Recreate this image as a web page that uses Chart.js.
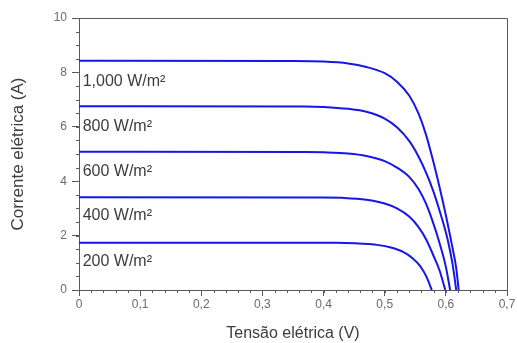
<!DOCTYPE html>
<html>
<head>
<meta charset="utf-8">
<script src="https://cdn.jsdelivr.net/npm/chart.js@4/dist/chart.umd.min.js"></script>
<style>
  html, body { margin: 0; padding: 0; background: #fff; overflow: hidden; }
  canvas { display: block; }
</style>
</head>
<body>
<canvas id="c" width="517" height="343"></canvas>
<script>
/* I-V curves of a PV cell at five irradiance levels. */

const curveLabels = ['1,000 W/m²', '800 W/m²', '600 W/m²', '400 W/m²', '200 W/m²'];
const labelY = [7.65, 5.99, 4.34, 2.72, 1.03]; // where each label sits (A)

const v1000 = [0, 0.35, 0.40, 0.44, 0.47, 0.50, 0.52, 0.54, 0.555, 0.567, 0.578, 0.59, 0.60, 0.61, 0.617, 0.621];
const i1000 = [8.43, 8.42, 8.40, 8.33, 8.20, 7.97, 7.66, 7.15, 6.50, 5.75, 4.85, 3.75, 2.75, 1.65, 0.80, 0];

const v800 = [0, 0.37, 0.40, 0.44, 0.47, 0.50, 0.52, 0.54, 0.555, 0.568, 0.58, 0.592, 0.603, 0.611, 0.617];
const i800 = [6.76, 6.75, 6.73, 6.66, 6.55, 6.30, 5.98, 5.48, 4.92, 4.30, 3.60, 2.75, 1.85, 0.95, 0];

const v600 = [0, 0.37, 0.40, 0.44, 0.47, 0.50, 0.52, 0.54, 0.555, 0.567, 0.578, 0.59, 0.60, 0.607];
const i600 = [5.08, 5.07, 5.06, 5.02, 4.93, 4.74, 4.50, 4.16, 3.72, 3.20, 2.55, 1.70, 0.85, 0];

const v400 = [0, 0.40, 0.43, 0.47, 0.50, 0.52, 0.54, 0.555, 0.568, 0.58, 0.59, 0.599];
const i400 = [3.41, 3.405, 3.39, 3.32, 3.18, 3.00, 2.70, 2.32, 1.85, 1.25, 0.70, 0];

const v200 = [0, 0.42, 0.45, 0.49, 0.51, 0.53, 0.545, 0.558, 0.568, 0.577];
const i200 = [1.74, 1.735, 1.72, 1.65, 1.56, 1.40, 1.18, 0.88, 0.50, 0];

const xTicks = [0, 0.1, 0.2, 0.3, 0.4, 0.5, 0.6, 0.7];
const yTicks = [0, 2, 4, 6, 8, 10];

const BLUE = '#1616e6';
const AXIS = '#5a5a5a';
const FONT = "'Liberation Sans', Arial, sans-serif";

function pts(vs, is) {
  return vs.map((v, k) => ({ x: v, y: is[k] }));
}

const series = [
  pts(v1000, i1000), pts(v800, i800), pts(v600, i600), pts(v400, i400), pts(v200, i200),
];

// box around the plot, minor ticks, and the irradiance labels
const extras = {
  id: 'extras',
  afterDraw(chart) {
    const { ctx, chartArea: a, scales: { x, y } } = chart;
    ctx.save();
    ctx.strokeStyle = AXIS;
    ctx.lineWidth = 1;
    ctx.beginPath();
    ctx.moveTo(a.left, a.top + 0.5);
    ctx.lineTo(a.right + 0.5, a.top + 0.5);
    ctx.lineTo(a.right + 0.5, a.bottom);
    ctx.stroke();

    ctx.beginPath();
    for (let v = 0; v <= 0.7001; v += 0.02) {
      const px = Math.round(x.getPixelForValue(v)) + 0.5;
      ctx.moveTo(px, a.bottom);
      ctx.lineTo(px, a.bottom + 3);
    }
    for (let v = 0; v <= 10.001; v += 0.5) {
      const py = Math.round(y.getPixelForValue(v)) + 0.5;
      ctx.moveTo(a.left, py);
      ctx.lineTo(a.left - 3, py);
    }
    ctx.stroke();

    ctx.fillStyle = '#3c3c3c';
    ctx.font = '16px ' + FONT;
    ctx.textAlign = 'left';
    ctx.textBaseline = 'middle';
    curveLabels.forEach((t, k) => {
      ctx.fillText(t, x.getPixelForValue(0.006), y.getPixelForValue(labelY[k]));
    });
    ctx.restore();
  },
};

new Chart(document.getElementById('c'), {
  type: 'line',
  data: {
    datasets: series.map((d) => ({
      data: d,
      borderColor: BLUE,
      borderWidth: 2,
      pointRadius: 0,
      fill: false,
      cubicInterpolationMode: 'monotone',
    })),
  },
  options: {
    responsive: false,
    animation: false,
    devicePixelRatio: 1,
    layout: { padding: { left: 0, top: 18, right: 10, bottom: 0 } },
    plugins: { legend: { display: false }, tooltip: { enabled: false } },
    scales: {
      x: {
        type: 'linear',
        min: 0, max: 0.7,
        afterBuildTicks: (s) => { s.ticks = xTicks.map((v) => ({ value: v })); },
        afterFit: (s) => { s.height = 53; },
        border: { color: AXIS, width: 1 },
        grid: { drawOnChartArea: false, tickLength: 6, color: AXIS },
        ticks: {
          padding: 1,
          color: '#6a6a6a',
          font: { family: FONT, size: 12 },
          callback: (v) => String(v).replace('.', ','),
        },
        title: {
          display: true,
          text: 'Tensão elétrica (V)',
          color: '#3c3c3c',
          font: { family: FONT, size: 16 },
          padding: { top: 0, bottom: 0 },
        },
      },
      y: {
        type: 'linear',
        min: 0, max: 10,
        afterBuildTicks: (s) => { s.ticks = yTicks.map((v) => ({ value: v })); },
        afterFit: (s) => { s.width = 79; },
        border: { color: AXIS, width: 1 },
        grid: { drawOnChartArea: false, tickLength: 7, color: AXIS },
        ticks: {
          padding: 5,
          color: '#6a6a6a',
          font: { family: FONT, size: 12 },
        },
        title: {
          display: true,
          text: 'Corrente elétrica (A)',
          color: '#3c3c3c',
          font: { family: FONT, size: 17 },
          padding: { top: 8, bottom: 0 },
        },
      },
    },
  },
  plugins: [extras],
});
</script>
</body>
</html>
